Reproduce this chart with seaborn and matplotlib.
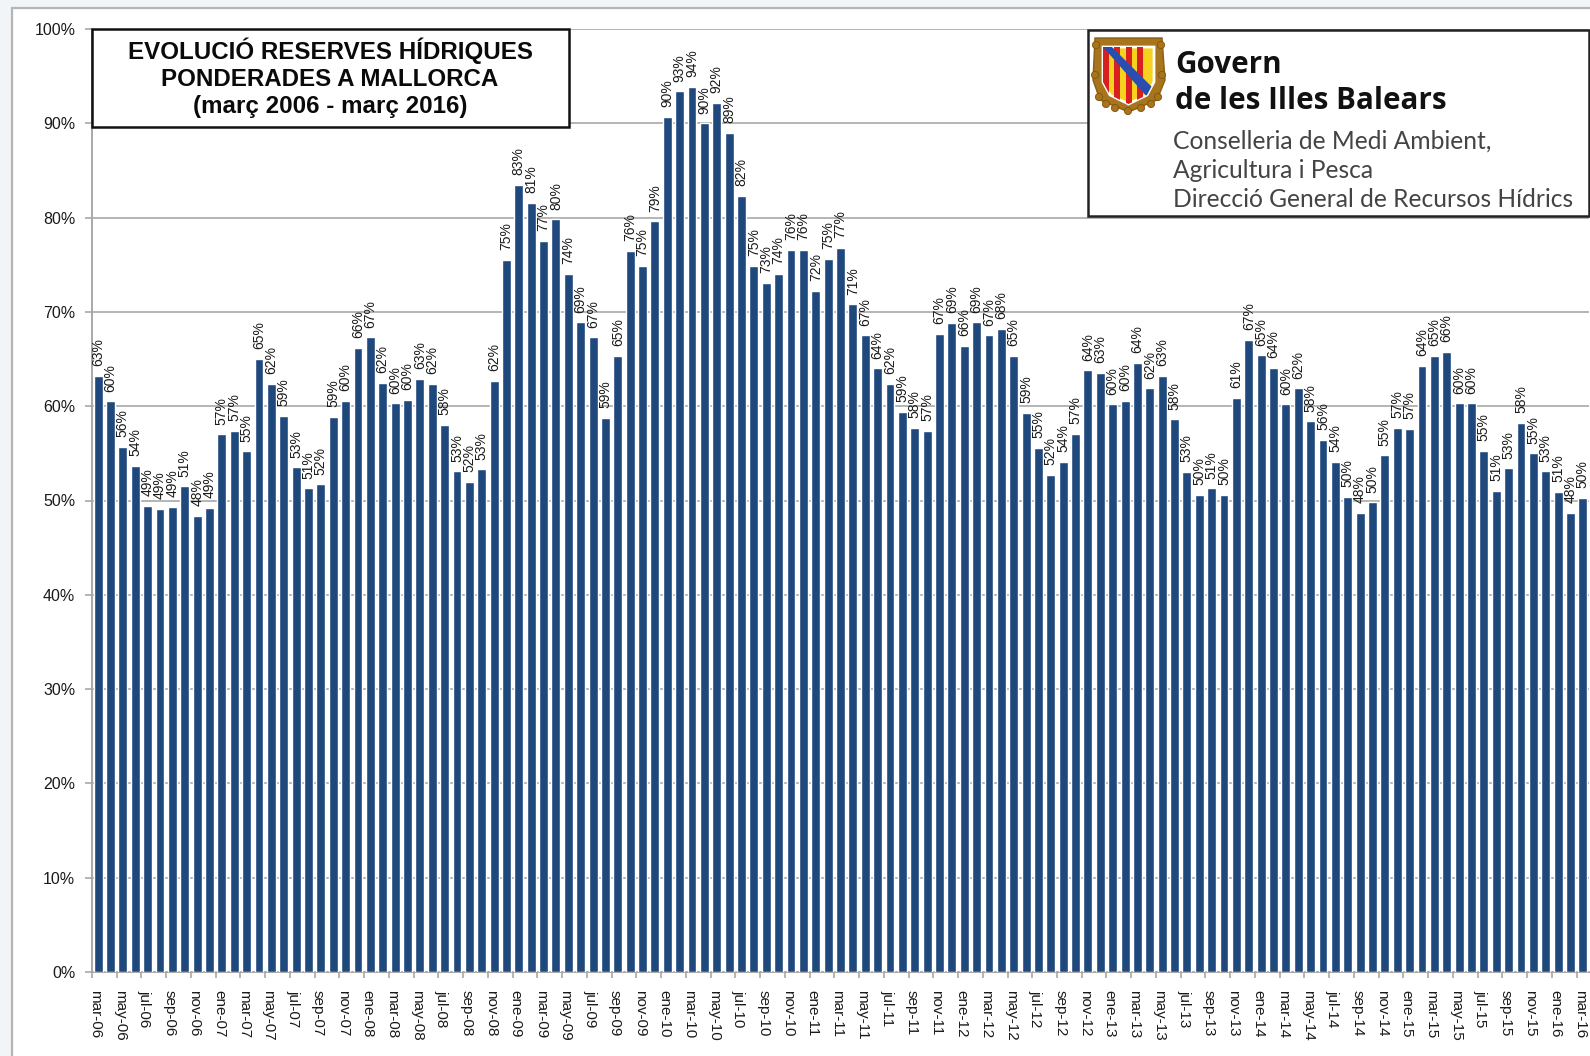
import matplotlib
matplotlib.use("Agg")
import matplotlib.pyplot as plt
from matplotlib.patches import Rectangle, Polygon, Circle
from matplotlib.transforms import ScaledTranslation
import numpy as np
import pandas as pd
import seaborn as sns

month_names = ["ene", "feb", "mar", "abr", "may", "jun", "jul", "ago", "sep", "oct", "nov", "dic"]
years = ["06", "07", "08", "09", "10", "11", "12", "13", "14", "15", "16"]

values = [
    63.25, 60.5, 55.7, 53.7, 49.4, 49.1, 49.3, 51.5, 48.4, 49.2, 57.0, 57.4, 55.2, 65.0, 62.4, 59.0, 53.5,
    51.3, 51.7, 58.9, 60.6, 66.2, 67.3, 62.5, 60.3, 60.7, 62.9, 62.4, 58.0, 53.1, 52.0, 53.3, 62.7,
    75.5, 83.45, 81.6, 77.5, 79.8, 74.0, 68.9, 67.3, 58.8, 65.3, 76.5, 74.9, 79.6, 90.7, 93.4, 93.9, 90.0,
    92.2, 89.0, 82.3, 74.9, 73.1, 74.0, 76.6, 76.6, 72.2, 75.6, 76.8, 70.8, 67.5, 64.0, 62.4, 59.4, 57.7,
    57.4, 67.7, 68.8, 66.4, 68.9, 67.5, 68.2,
    65.3, 59.3, 55.6, 52.7, 54.1, 57.1, 63.8, 63.5, 60.2, 60.6, 64.6, 61.9, 63.2, 58.6, 53.0, 50.6, 51.3,
    50.6, 60.9, 67.0, 65.4, 64.1, 60.2, 61.9, 58.4, 56.4, 54.1, 50.4, 48.7, 49.8, 54.8, 57.7, 57.6, 64.3,
    65.3, 65.8, 60.3, 60.3, 55.3, 51.0, 53.4, 58.2, 55.0, 53.1, 50.9, 48.7, 50.3,
]
value_labels = [
    63, 60, 56, 54, 49, 49, 49, 51, 48, 49, 57, 57, 55, 65, 62, 59, 53,
    51, 52, 59, 60, 66, 67, 62, 60, 60, 63, 62, 58, 53, 52, 53, 62,
    75, 83, 81, 77, 80, 74, 69, 67, 59, 65, 76, 75, 79, 90, 93, 94, 90,
    92, 89, 82, 75, 73, 74, 76, 76, 72, 75, 77, 71, 67, 64, 62, 59, 58,
    57, 67, 69, 66, 69, 67, 68,
    65, 59, 55, 52, 54, 57, 64, 63, 60, 60, 64, 62, 63, 58, 53, 50, 51,
    50, 61, 67, 65, 64, 60, 62, 58, 56, 54, 50, 48, 50, 55, 57, 57, 64,
    65, 66, 60, 60, 55, 51, 53, 58, 55, 53, 51, 48, 50,
]
title_lines = ["EVOLUCIÓ RESERVES HÍDRIQUES", "PONDERADES A MALLORCA", "(març 2006 - març 2016)"]
y_ticks = [0, 10, 20, 30, 40, 50, 60, 70, 80, 90, 100]

months = [f"{m}-{y}" for y in years for m in month_names][2:2 + len(values)]
df = pd.DataFrame({"mes": months, "reserva": values})

W, H = 1590, 1056
BAR = "#1F497D"
GRID = "#A8A8A8"
TXT = "#1a1a1a"
sns.set_theme(style="white")
plt.rcParams["font.family"] = ["Liberation Sans", "DejaVu Sans"]

fig = plt.figure(figsize=(W / 100, H / 100), dpi=100, facecolor="#F2F5F7")

# page panel behind the chart
bg = fig.add_axes([0, 0, 1, 1], zorder=0)
bg.set_xlim(0, W); bg.set_ylim(H, 0); bg.axis("off")
bg.add_patch(Rectangle((12, 8), W, H, fc="white", ec="#B5B5B5", lw=1.6))

L, R, T, B = 92, 1589, 29, 972
ax = fig.add_axes([L / W, 1 - B / H, (R - L) / W, (B - T) / H], zorder=1)
ax.patch.set_alpha(0)
sns.barplot(data=df, x="mes", y="reserva", color=BAR, saturation=1, width=0.72, ax=ax, zorder=3)
ax.set_xlim(-0.5, len(values) - 0.5)
ax.set_ylim(0, 100)
ax.set_xlabel(""); ax.set_ylabel("")

ax.set_yticks(y_ticks)
ax.set_yticklabels([f"{v}%" for v in y_ticks], fontsize=11.5, color=TXT)
ax.yaxis.grid(True, color=GRID, lw=1.2, zorder=0)
ax.set_axisbelow(True)
ax.tick_params(axis="y", length=5, width=1.2, color=GRID, pad=7, left=True)

positions = np.arange(0, len(values), 2)
ax.set_xticks(positions)
ax.set_xticklabels([months[i] for i in positions], rotation=-90, ha="center", va="top",
                   fontsize=11, color=TXT)
ax.tick_params(axis="x", which="major", length=0, pad=13)
ax.set_xticks(positions - 0.5, minor=True)
ax.tick_params(axis="x", which="minor", length=4, width=1.2, color=GRID, bottom=True)
shift = ScaledTranslation(-3 / 100, 0, fig.dpi_scale_trans)
for lab in ax.get_xticklabels():
    lab.set_transform(lab.get_transform() + shift)

for side in ("top", "right"):
    ax.spines[side].set_visible(False)
for side in ("left", "bottom"):
    ax.spines[side].set_color(GRID)
    ax.spines[side].set_linewidth(1.4)

ax.bar_label(ax.containers[0], labels=[f"{v}%" for v in value_labels], rotation=90,
             padding=7, fontsize=10, color=TXT, zorder=5)

# overlay in pixel coordinates for title box and logo panel
ov = fig.add_axes([0, 0, 1, 1], zorder=2)
ov.set_xlim(0, W); ov.set_ylim(H, 0); ov.axis("off"); ov.patch.set_alpha(0)

ov.add_patch(Rectangle((92, 29), 477, 98, fc="white", ec="#111111", lw=1.8))
for line, yc in zip(title_lines, (51, 79, 106)):
    ov.text(330, yc, line, ha="center", va="center", fontsize=17.4, fontweight="bold", color="#0a0a0a")

ov.add_patch(Rectangle((1088, 30), 501, 186, fc="white", ec="#222222", lw=1.8))
ov.text(1175, 73, "Govern", fontsize=21.3, fontweight="bold", family="Open Sans", color="#111111", va="baseline")
ov.text(1175, 109, "de les Illes Balears", fontsize=21.3, fontweight="bold", family="Open Sans", color="#111111", va="baseline")
for line, yb in zip(["Conselleria de Medi Ambient,", "Agricultura i Pesca", "Direcció General de Recursos Hídrics"],
                    (149, 178, 207)):
    ov.text(1173, yb, line, fontsize=17.7, family="Lato", color="#444444", va="baseline")

# coat of arms
shield = [(1103, 47), (1154, 47), (1154, 82), (1147, 95), (1128.5, 104), (1110, 95), (1103, 82), (1103, 47)]
outer = [(1095, 38), (1162, 38), (1165, 80), (1157, 100), (1128.5, 112), (1100, 100), (1093, 80), (1095, 38)]
ov.add_patch(Polygon(outer, closed=True, fc="#A8741C", ec="#8A5E14", lw=1))
for cx, cy in [(1099, 97), (1106, 104), (1115, 108), (1128, 111), (1141, 108), (1151, 104), (1158, 97),
               (1095, 75), (1162, 75), (1096, 45), (1161, 45)]:
    ov.add_patch(Circle((cx, cy), 3.6, fc="#A8741C", ec="#7E5510", lw=0.6))
clip = Polygon(shield, closed=True, fc="#F6D21F", ec="white", lw=2, transform=ov.transData)
ov.add_patch(clip)
for i in range(4):
    s = Rectangle((1103 + 5.7 * (2 * i), 47), 5.7, 58, fc="#D92020", ec="none")
    ov.add_patch(s); s.set_clip_path(clip)
band = Polygon([(1103, 47), (1112, 47), (1155, 90), (1148, 98)], closed=True, fc="#2A4DB0", ec="none")
ov.add_patch(band); band.set_clip_path(clip)

fig.savefig("out.png", dpi=100, facecolor=fig.get_facecolor())
